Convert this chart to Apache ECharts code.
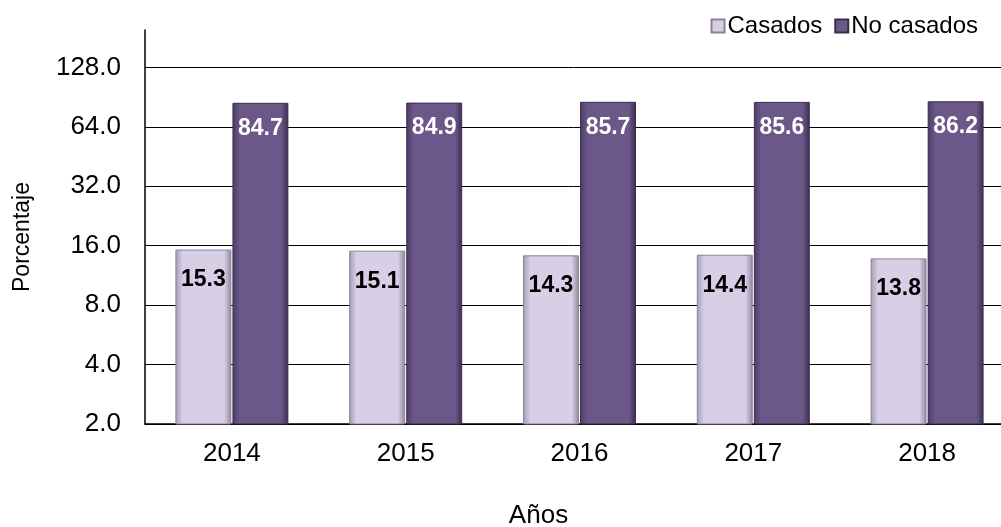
<!DOCTYPE html>
<html>
<head>
<meta charset="utf-8">
<script src="https://cdn.jsdelivr.net/npm/echarts@6/dist/echarts.min.js"></script>
<style>
  html, body { margin: 0; padding: 0; background: #fff; }
  #chart { width: 1001px; height: 527px; }
</style>
</head>
<body>
<div id="chart"></div>
<script>
// Datos
const years = ['2014', '2015', '2016', '2017', '2018'];
const casados = [15.3, 15.1, 14.3, 14.4, 13.8];
const noCasados = [84.7, 84.9, 85.7, 85.6, 86.2];
const seriesNames = ['Casados', 'No casados'];

const FONT = '"Liberation Sans", Arial, sans-serif';

// degradado horizontal para simular el bisel de las barras
function bevel(edge, mid, edge2) {
    return {
        type: 'linear', x: 0, y: 0, x2: 1, y2: 0,
        colorStops: [
            { offset: 0, color: edge },
            { offset: 0.13, color: mid },
            { offset: 0.87, color: mid },
            { offset: 1, color: edge2 }
        ]
    };
}

const chart = echarts.init(document.getElementById('chart'));

const option = {
    animation: false,
    textStyle: { fontFamily: FONT },
    legend: {
        right: 18,
        top: 9,
        itemWidth: 13,
        itemHeight: 13,
        itemGap: 12,
        icon: 'rect',
        textStyle: { fontFamily: FONT, fontSize: 24, color: '#000', padding: [0, 0, 0, -2] },
        data: seriesNames
    },
    grid: {
        left: 145,
        right: -13,
        top: 30,
        bottom: 103,
        outerBoundsMode: 'none'
    },
    xAxis: {
        type: 'category',
        data: years,
        name: 'Años',
        nameLocation: 'middle',
        nameGap: 79,
        nameTextStyle: { fontFamily: FONT, fontSize: 26, color: '#000', padding: [0, 82, 0, 0] },
        axisLine: { lineStyle: { color: '#000', width: 1.5 } },
        axisTick: { show: false },
        axisLabel: { fontFamily: FONT, fontSize: 26, color: '#000', margin: 17 }
    },
    yAxis: {
        type: 'log',
        logBase: 2,
        min: 2,
        max: 198,
        name: 'Porcentaje',
        nameLocation: 'middle',
        nameGap: 111,
        nameTextStyle: { fontFamily: FONT, fontSize: 23, color: '#000', padding: [0, 20, 0, 0] },
        axisLine: { show: true, lineStyle: { color: '#000', width: 1.5 } },
        axisTick: { show: false },
        axisLabel: {
            fontFamily: FONT,
            fontSize: 26,
            color: '#000',
            margin: 24,
            showMaxLabel: false,
            formatter: function (v) {
                const l = Math.log2(v);
                return Math.abs(l - Math.round(l)) < 1e-6 ? v.toFixed(1) : '';
            }
        },
        splitLine: {
            show: true,
            showMaxLine: false,
            lineStyle: { color: '#000', width: 1 }
        }
    },
    series: [
        {
            name: seriesNames[0],
            type: 'bar',
            data: casados,
            barGap: '2%',
            barCategoryGap: '35%',
            itemStyle: {
                color: bevel('#a39ab3', '#d8cfe7', '#8f869f'),
                borderColor: '#8a8198',
                borderWidth: 1
            },
            label: {
                show: true,
                position: 'insideTop',
                distance: 19,
                fontFamily: FONT,
                fontSize: 23,
                fontWeight: 'bold',
                color: '#000',
                formatter: p => p.value.toFixed(1)
            }
        },
        {
            name: seriesNames[1],
            type: 'bar',
            data: noCasados,
            itemStyle: {
                color: bevel('#4b3b64', '#6b5788', '#3c2d52'),
                borderColor: '#3b2d4f',
                borderWidth: 1
            },
            label: {
                show: true,
                position: 'insideTop',
                distance: 14,
                fontFamily: FONT,
                fontSize: 23,
                fontWeight: 'bold',
                color: '#fff',
                formatter: p => p.value.toFixed(1)
            }
        }
    ]
};

chart.setOption(option);
</script>
</body>
</html>
